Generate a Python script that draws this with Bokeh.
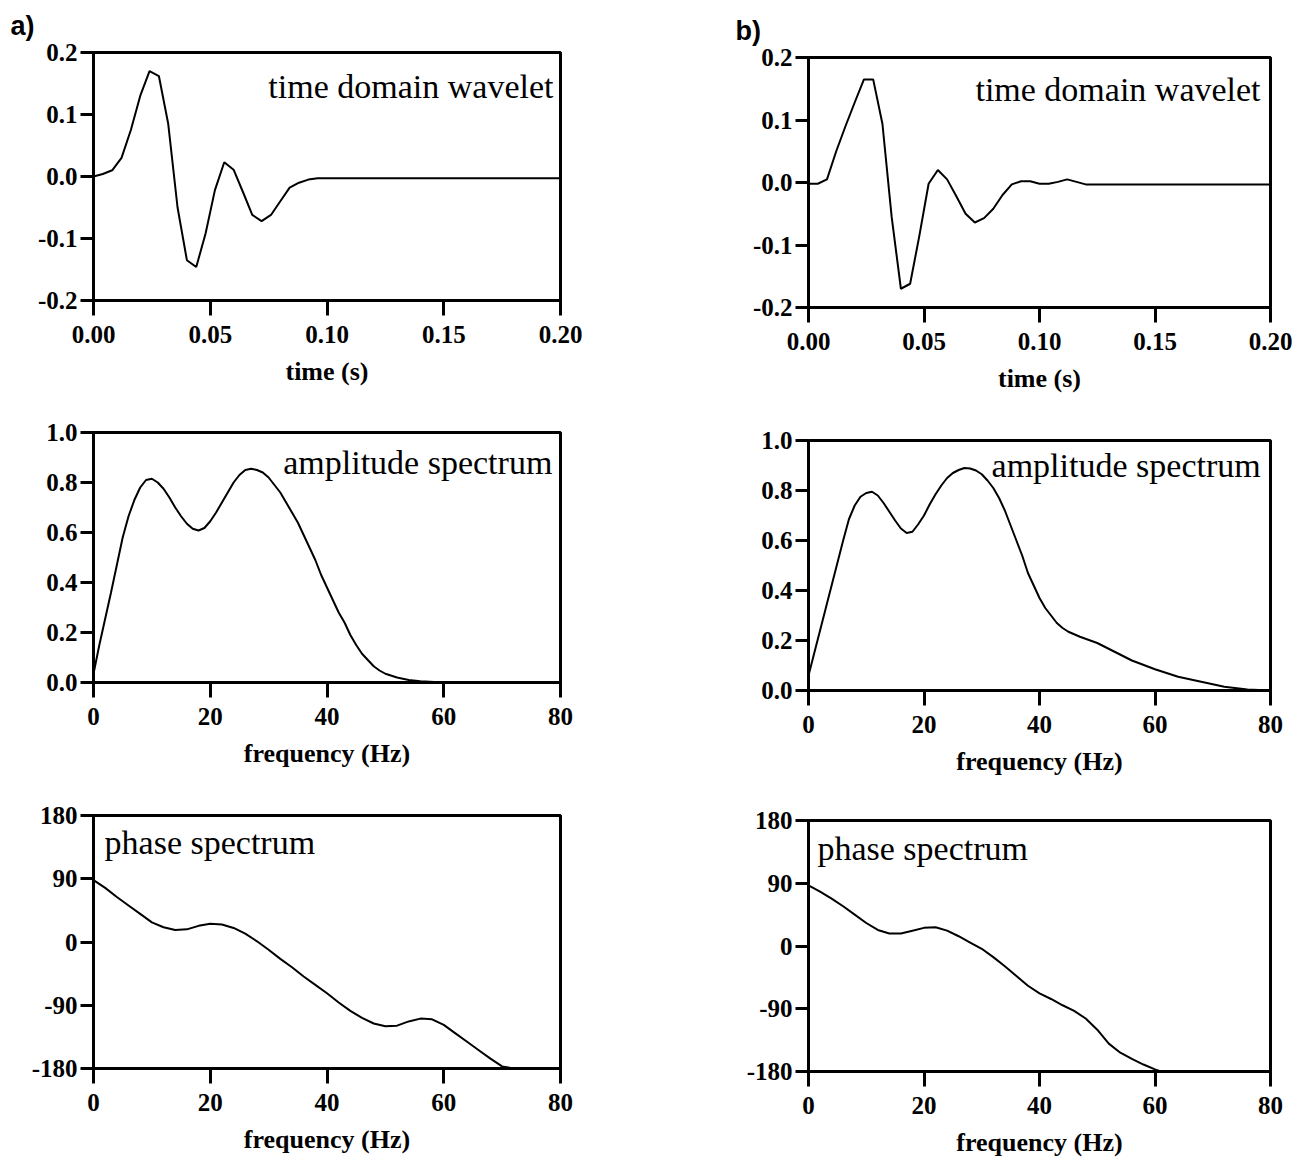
from bokeh.plotting import figure
from bokeh.layouts import row, column
from bokeh.models import FixedTicker, Range1d
from bokeh.embed import file_html
from bokeh.resources import INLINE

# ---------------- data ----------------
time_a = [0.000, 0.004, 0.008, 0.012, 0.016, 0.020, 0.024, 0.028, 0.032, 0.036,
          0.040, 0.044, 0.048, 0.052, 0.056, 0.060, 0.064, 0.068, 0.072, 0.076,
          0.080, 0.084, 0.088, 0.092, 0.096, 0.100, 0.200]
wavelet_a = [0.000, 0.004, 0.010, 0.030, 0.075, 0.130, 0.170, 0.162, 0.085, -0.050,
             -0.135, -0.146, -0.092, -0.022, 0.023, 0.011, -0.025, -0.062, -0.072, -0.062,
             -0.040, -0.018, -0.010, -0.005, -0.003, -0.003, -0.003]

time_b = [0.000, 0.004, 0.008, 0.012, 0.016, 0.020, 0.024, 0.028, 0.032, 0.036,
          0.040, 0.044, 0.048, 0.052, 0.056, 0.060, 0.064, 0.068, 0.072, 0.076,
          0.080, 0.084, 0.088, 0.092, 0.096, 0.100, 0.104, 0.108, 0.112, 0.116,
          0.120, 0.200]
wavelet_b = [-0.002, -0.002, 0.005, 0.050, 0.090, 0.128, 0.165, 0.165, 0.094, -0.055,
             -0.170, -0.162, -0.085, -0.002, 0.020, 0.005, -0.022, -0.050, -0.064, -0.057,
             -0.042, -0.020, -0.003, 0.002, 0.002, -0.002, -0.002, 0.001, 0.005, 0.001,
             -0.003, -0.003]

freq_amp_a = [0, 1, 2, 3, 4, 5, 6, 7, 8, 9, 10, 11, 12, 13, 14, 15, 16, 17, 18, 19,
              20, 21, 22, 23, 24, 25, 26, 27, 28, 29, 30, 31, 32, 33, 34, 35, 36, 37, 38, 39,
              40, 41, 42, 43, 44, 45, 46, 47, 48, 49, 50, 52, 54, 56, 60, 70, 80]
amp_a = [0.035, 0.15, 0.255, 0.36, 0.47, 0.58, 0.665, 0.73, 0.78, 0.81,
         0.815, 0.80, 0.775, 0.74, 0.70, 0.665, 0.635, 0.615, 0.608, 0.618,
         0.645, 0.68, 0.72, 0.76, 0.80, 0.83, 0.85, 0.855, 0.85, 0.84,
         0.82, 0.79, 0.76, 0.72, 0.68, 0.64, 0.59, 0.54, 0.49, 0.43,
         0.38, 0.33, 0.28, 0.24, 0.19, 0.15, 0.115, 0.09, 0.065, 0.048,
         0.035, 0.02, 0.01, 0.005, 0.0, -0.003, -0.005]

freq_amp_b = [0, 1, 2, 3, 4, 5, 6, 7, 8, 9, 10, 11, 12, 13, 14, 15, 16, 17, 18, 19,
              20, 21, 22, 23, 24, 25, 26, 27, 28, 29, 30, 31, 32, 33, 34, 35, 36, 37, 38, 39,
              40, 41, 42, 43, 44, 45, 47, 50, 53, 56, 60, 64, 68, 72, 76, 80]
amp_b = [0.06, 0.15, 0.24, 0.33, 0.42, 0.51, 0.60, 0.685, 0.74, 0.775,
         0.79, 0.795, 0.78, 0.75, 0.715, 0.68, 0.648, 0.63, 0.635, 0.665,
         0.70, 0.745, 0.785, 0.82, 0.85, 0.87, 0.882, 0.89, 0.888, 0.88,
         0.865, 0.84, 0.81, 0.77, 0.72, 0.66, 0.60, 0.54, 0.47, 0.42,
         0.37, 0.33, 0.30, 0.27, 0.25, 0.235, 0.215, 0.19, 0.155, 0.12,
         0.085, 0.055, 0.035, 0.015, 0.004, 0.0]

freq_ph_a = [0, 2, 4, 6, 8, 10, 12, 14, 16, 18, 20, 22, 24, 26, 28, 30, 32, 34, 36, 38,
             40, 42, 44, 46, 48, 50, 52, 54, 56, 58, 60, 62, 64, 66, 68, 70, 72]
phase_a = [88, 77, 64, 52, 40, 28, 21, 17, 18, 23, 26, 25, 20, 12, 1, -11, -24, -36, -49, -61,
           -73, -86, -98, -108, -116, -120, -119, -113, -109, -110, -118, -130, -142, -154, -166, -177, -180]

freq_ph_b = [0, 2, 4, 6, 8, 10, 12, 14, 16, 18, 20, 22, 24, 26, 28, 30, 32, 34, 36, 38,
             40, 42, 44, 46, 48, 50, 52, 54, 56, 58, 60, 61]
phase_b = [87, 78, 68, 57, 45, 33, 23, 18, 18, 22, 26, 27, 22, 14, 5, -4, -16, -29, -43, -57,
           -68, -76, -85, -93, -104, -120, -140, -153, -162, -170, -177, -180]

time_ticks = [0.0, 0.05, 0.10, 0.15, 0.20]
time_tick_labels = ["0.00", "0.05", "0.10", "0.15", "0.20"]
wav_ticks = [-0.2, -0.1, 0.0, 0.1, 0.2]
wav_tick_labels = ["-0.2", "-0.1", "0.0", "0.1", "0.2"]
freq_ticks = [0, 20, 40, 60, 80]
freq_tick_labels = ["0", "20", "40", "60", "80"]
amp_ticks = [0.0, 0.2, 0.4, 0.6, 0.8, 1.0]
amp_tick_labels = ["0.0", "0.2", "0.4", "0.6", "0.8", "1.0"]
ph_ticks = [-180, -90, 0, 90, 180]
ph_tick_labels = ["-180", "-90", "0", "90", "180"]

SERIF = "Liberation Serif"


def make_panel(x, y, xr, yr, xt, xtl, yt, ytl, xlabel, note, note_x, note_y, note_align,
               w, h, bl, br, bt, bb, tag=None, tag_offset=0):
    p = figure(width=w, height=h, x_range=Range1d(*xr), y_range=Range1d(*yr),
               output_backend="svg", toolbar_location=None,
               min_border_left=bl, min_border_right=br, min_border_top=bt, min_border_bottom=bb)
    p.grid.visible = False
    p.outline_line_color = "black"
    p.outline_line_width = 3
    p.outline_line_alpha = 1
    p.background_fill_color = "white"
    p.border_fill_color = "white"
    p.line(x, y, line_color="black", line_width=2)

    p.xaxis.ticker = FixedTicker(ticks=xt)
    p.xaxis.major_label_overrides = {v: s for v, s in zip(xt, xtl)}
    p.yaxis.ticker = FixedTicker(ticks=yt)
    p.yaxis.major_label_overrides = {v: s for v, s in zip(yt, ytl)}
    for ax in (p.xaxis[0], p.yaxis[0]):
        ax.axis_line_width = 3
        ax.axis_line_color = "black"
        ax.major_tick_line_width = 3
        ax.major_tick_line_color = "black"
        ax.major_tick_in = 0
        ax.minor_tick_line_color = None
        ax.major_label_text_font = SERIF
        ax.major_label_text_font_style = "bold"
        ax.major_label_text_font_size = "25px"
        ax.major_label_text_color = "black"
    p.xaxis.major_tick_out = 15
    p.yaxis.major_tick_out = 13
    p.xaxis.major_label_standoff = 10
    p.yaxis.major_label_standoff = 3
    p.xaxis.axis_label = xlabel
    p.xaxis.axis_label_text_font = SERIF
    p.xaxis.axis_label_text_font_style = "bold"
    p.xaxis.axis_label_text_font_size = "26px"
    p.xaxis.axis_label_text_color = "black"
    p.xaxis.axis_label_standoff = 11

    p.text(x=[note_x], y=[note_y], text=[note], text_align=note_align,
           text_baseline="middle", text_font={"value": SERIF},
           text_font_size={"value": "34px"}, text_color="black")

    if tag is not None:
        p.title.text = tag
        p.title.align = "left"
        p.title.offset = tag_offset
        p.title.text_font = "Liberation Sans"
        p.title.text_font_style = "bold"
        p.title.text_font_size = "27px"
        p.title.text_color = "black"
        p.title.vertical_align = "top"
        p.title.standoff = 20
    return p


a1 = make_panel(time_a, wavelet_a, (0, 0.2), (-0.2, 0.2), time_ticks, time_tick_labels,
                wav_ticks, wav_tick_labels, "time (s)", "time domain wavelet", 0.197, 0.145, "right",
                655, 390, 93, 93, 52, 90, tag="a)", tag_offset=-83)
a2 = make_panel(freq_amp_a, amp_a, (0, 80), (0, 1.0), freq_ticks, freq_tick_labels,
                amp_ticks, amp_tick_labels, "frequency (Hz)", "amplitude spectrum", 78.6, 0.88, "right",
                655, 380, 93, 93, 42, 88)
a3 = make_panel(freq_ph_a, phase_a, (0, 80), (-180, 180), freq_ticks, freq_tick_labels,
                ph_ticks, ph_tick_labels, "frequency (Hz)", "phase spectrum", 1.9, 141, "left",
                655, 389, 90, 95, 45, 91)

b1 = make_panel(time_b, wavelet_b, (0, 0.2), (-0.2, 0.2), time_ticks, time_tick_labels,
                wav_ticks, wav_tick_labels, "time (s)", "time domain wavelet", 0.1957, 0.149, "right",
                655, 395, 153, 38, 57, 88, tag="b)", tag_offset=-73)
b2 = make_panel(freq_amp_b, amp_b, (0, 80), (0, 1.0), freq_ticks, freq_tick_labels,
                amp_ticks, amp_tick_labels, "frequency (Hz)", "amplitude spectrum", 78.3, 0.90, "right",
                655, 383, 153, 38, 45, 88)
b3 = make_panel(freq_ph_b, phase_b, (0, 80), (-180, 180), freq_ticks, freq_tick_labels,
                ph_ticks, ph_tick_labels, "frequency (Hz)", "phase spectrum", 1.55, 140, "left",
                655, 381, 151, 40, 42, 88)

layout = row(column(a1, a2, a3), column(b1, b2, b3))
open("out.html", "w").write(file_html(layout, INLINE))
